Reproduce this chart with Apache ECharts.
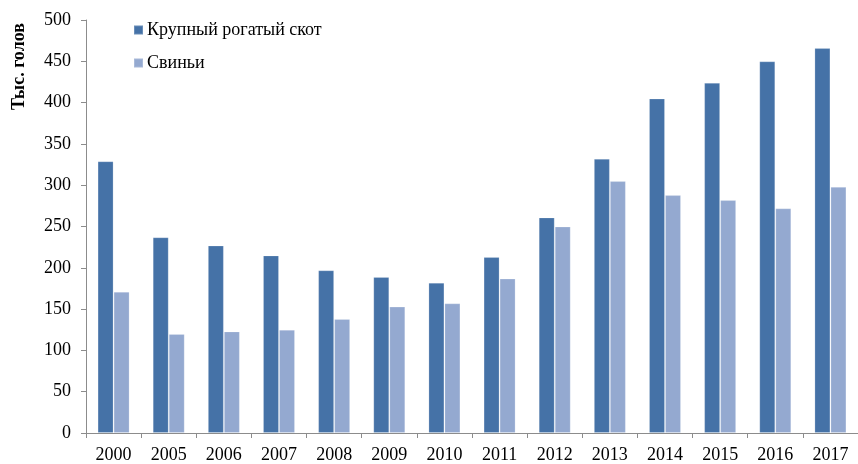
<!DOCTYPE html>
<html>
<head>
<meta charset="utf-8">
<script src="https://cdn.jsdelivr.net/npm/echarts@6/dist/echarts.min.js"></script>
<style>
  html, body { margin: 0; padding: 0; background: #fff; }
  #chart { width: 858px; height: 464px; }
</style>
</head>
<body>
<div id="chart"></div>
<script>
const years = ['2000', '2005', '2006', '2007', '2008', '2009', '2010', '2011', '2012', '2013', '2014', '2015', '2016', '2017'];
const cattle = [329, 237, 227, 215, 197, 189, 182, 213, 261, 332, 405, 424, 450, 466];
const pigs = [171, 120, 123, 125, 138, 153, 157, 187, 250, 305, 288, 282, 272, 298];
const yTicks = { min: 0, max: 500, step: 50 };

const serif = '"Liberation Serif", "Times New Roman", serif';
const axisGrey = '#8c8c8c';

const chart = echarts.init(document.getElementById('chart'));

const option = {
  animation: false,
  backgroundColor: '#fff',
  textStyle: { fontFamily: serif },
  grid: {
    left: 86,
    top: 20,
    width: 781,
    height: 417
  },
  legend: {
    orient: 'vertical',
    left: 133,
    top: 21,
    padding: 0,
    itemGap: 15,
    itemWidth: 9,
    itemHeight: 9,
    icon: 'rect',
    textStyle: { fontFamily: serif, fontSize: 18, color: '#000', padding: [0, 0, 0, -1] },
    data: ['Крупный рогатый скот', 'Свиньи']
  },
  graphic: [{
    type: 'text',
    left: 10,
    top: 23,
    rotation: Math.PI / 2,
    style: {
      text: 'Тыс. голов',
      font: 'bold 18px ' + serif,
      fill: '#000'
    }
  }],
  xAxis: {
    type: 'category',
    data: years,
    axisLine: { lineStyle: { color: axisGrey, width: 1 } },
    axisTick: { show: true, length: 5, lineStyle: { color: axisGrey } },
    axisLabel: { color: '#000', fontSize: 18, fontFamily: serif, margin: 13, interval: 0 }
  },
  yAxis: {
    type: 'value',
    min: yTicks.min,
    max: yTicks.max,
    interval: yTicks.step,
    axisLine: { show: true, lineStyle: { color: axisGrey, width: 1 } },
    axisTick: { show: true, length: 5, lineStyle: { color: axisGrey } },
    splitLine: { show: false },
    axisLabel: { color: '#000', fontSize: 18, fontFamily: serif, margin: 15 }
  },
  series: [{
    name: 'Крупный рогатый скот',
    type: 'bar',
    data: cattle,
    barWidth: 16,
    barGap: '0%',
    itemStyle: { color: '#4572a7', borderColor: 'rgba(255,255,255,0.2)', borderWidth: 1 }
  }, {
    name: 'Свиньи',
    type: 'bar',
    data: pigs,
    barWidth: 16,
    itemStyle: { color: '#94a9d0', borderColor: 'rgba(255,255,255,0.2)', borderWidth: 1 }
  }]
};

chart.setOption(option);
</script>
</body>
</html>
